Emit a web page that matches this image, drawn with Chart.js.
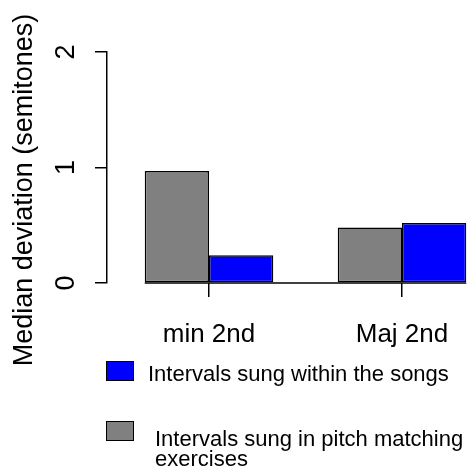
<!DOCTYPE html>
<html>
<head>
<meta charset="utf-8">
<script src="https://cdn.jsdelivr.net/npm/chart.js@4.4.1/dist/chart.umd.min.js"></script>
<style>
  body { margin: 0; background: #fff; }
  #wrap { position: relative; width: 467px; height: 473px; overflow: hidden; }
  #legend { position: absolute; left: 0; top: 0; font-family: "Liberation Sans", Arial, sans-serif; font-size: 22px; line-height: 20px; color: #000; }
  .lg-box { position: absolute; width: 28px; height: 20px; border: 1.5px solid #000; box-sizing: border-box; }
  .lg-text { position: absolute; white-space: nowrap; }
</style>
</head>
<body>
<div id="wrap">
  <canvas id="chart" width="467" height="473"></canvas>
  <div id="legend"></div>
</div>
<script>
// Median deviation of sung intervals
const categories = ['min 2nd', 'Maj 2nd'];
const pitchMatching = [0.97, 0.48];   // grey bars
const withinSongs = [0.24, 0.52];     // blue bars
const yTicks = [0, 1, 2];
const yTitle = 'Median deviation (semitones)';

const seriesNames = ['Intervals sung in pitch matching exercises', 'Intervals sung within the songs'];
const seriesColors = ['#808080', '#0000ff'];

const FONT = '"Liberation Sans", Arial, sans-serif';

// x is a linear scale so the groups sit where the original barplot put them
const xPos = categories.map((c, i) => i + 1);

function toPoints(values) {
  return values.map((v, i) => ({ x: xPos[i], y: v }));
}

// horizontal base line under the bars, from first bar edge to last bar edge
const baseLine = {
  id: 'baseLine',
  afterDatasetsDraw(chart) {
    const first = chart.getDatasetMeta(0).data[0];
    const lastMeta = chart.getDatasetMeta(chart.data.datasets.length - 1);
    const last = lastMeta.data[lastMeta.data.length - 1];
    if (!first || !last) return;
    const y = chart.scales.y.getPixelForValue(0);
    const ctx = chart.ctx;
    ctx.save();
    ctx.strokeStyle = '#000';
    ctx.lineWidth = 1.5;
    ctx.beginPath();
    ctx.moveTo(first.x - first.width / 2, y);
    ctx.lineTo(last.x + last.width / 2, y);
    ctx.stroke();
    ctx.restore();
  }
};

// y axis title sits a bit lower than the axis centre in the original
const yTitlePlugin = {
  id: 'yTitle',
  afterDraw(chart) {
    const ctx = chart.ctx;
    ctx.save();
    ctx.translate(25, 190);
    ctx.rotate(-Math.PI / 2);
    ctx.font = '27px ' + FONT;
    ctx.fillStyle = '#000';
    ctx.textAlign = 'center';
    ctx.textBaseline = 'middle';
    ctx.fillText(yTitle, 0, 0);
    ctx.restore();
  }
};

const ctx = document.getElementById('chart').getContext('2d');
const chart = new Chart(ctx, {
  type: 'bar',
  data: {
    datasets: [
      { label: seriesNames[0], data: toPoints(pitchMatching), backgroundColor: seriesColors[0], borderColor: '#000', borderWidth: 1.5, borderSkipped: false },
      { label: seriesNames[1], data: toPoints(withinSongs), backgroundColor: seriesColors[1], borderColor: '#000', borderWidth: 1.5, borderSkipped: false }
    ]
  },
  options: {
    responsive: false,
    animation: false,
    devicePixelRatio: 1,
    categoryPercentage: 0.666,
    barPercentage: 1,
    layout: { padding: { top: 52, right: 0, bottom: 0, left: 0 } },
    plugins: {
      legend: { display: false },
      tooltip: { enabled: false }
    },
    scales: {
      x: {
        type: 'linear',
        offset: false,
        min: 0.4715,
        max: 2.3368,
        afterBuildTicks: s => { s.ticks = xPos.map(v => ({ value: v })); },
        // fixed height, and no extra side padding for the labels
        afterFit: s => { s.height = 190; s.paddingLeft = 0; s.paddingRight = 0; },
        border: { display: false },
        grid: { offset: false, drawOnChartArea: false, drawTicks: true, tickLength: 14, color: '#000', lineWidth: 1.5 },
        ticks: {
          color: '#000',
          font: { family: FONT, size: 26 },
          padding: 22,
          maxRotation: 0,
          autoSkip: false,
          callback: v => categories[xPos.indexOf(v)]
        }
      },
      y: {
        min: 0,
        max: 2,
        afterBuildTicks: s => { s.ticks = yTicks.map(v => ({ value: v })); },
        afterFit: s => { s.width = 107; },
        border: { display: true, color: '#000', width: 1.5 },
        grid: { drawOnChartArea: false, drawTicks: true, tickLength: 12, color: '#000', lineWidth: 1.5 },
        ticks: {
          color: '#000',
          font: { family: FONT, size: 27 },
          minRotation: 90,
          maxRotation: 90,
          crossAlign: 'center',
          padding: 21
        }
      }
    }
  },
  plugins: [baseLine, yTitlePlugin]
});

// legend below the plot, blue entry first like the original
const legendItems = [
  { ds: 1, box: { left: 106, top: 361 }, lines: ['Intervals sung within the songs'], text: { left: 148, top: 364 } },
  { ds: 0, box: { left: 106, top: 421 }, lines: ['Intervals sung in pitch matching', 'exercises'], text: { left: 155, top: 429 } }
];
const legendEl = document.getElementById('legend');
legendItems.forEach(item => {
  const box = document.createElement('div');
  box.className = 'lg-box';
  box.style.left = item.box.left + 'px';
  box.style.top = item.box.top + 'px';
  box.style.background = chart.data.datasets[item.ds].backgroundColor;
  legendEl.appendChild(box);
  const txt = document.createElement('div');
  txt.className = 'lg-text';
  txt.style.left = item.text.left + 'px';
  txt.style.top = item.text.top + 'px';
  txt.innerHTML = item.lines.join('<br>');
  legendEl.appendChild(txt);
});
</script>
</body>
</html>
